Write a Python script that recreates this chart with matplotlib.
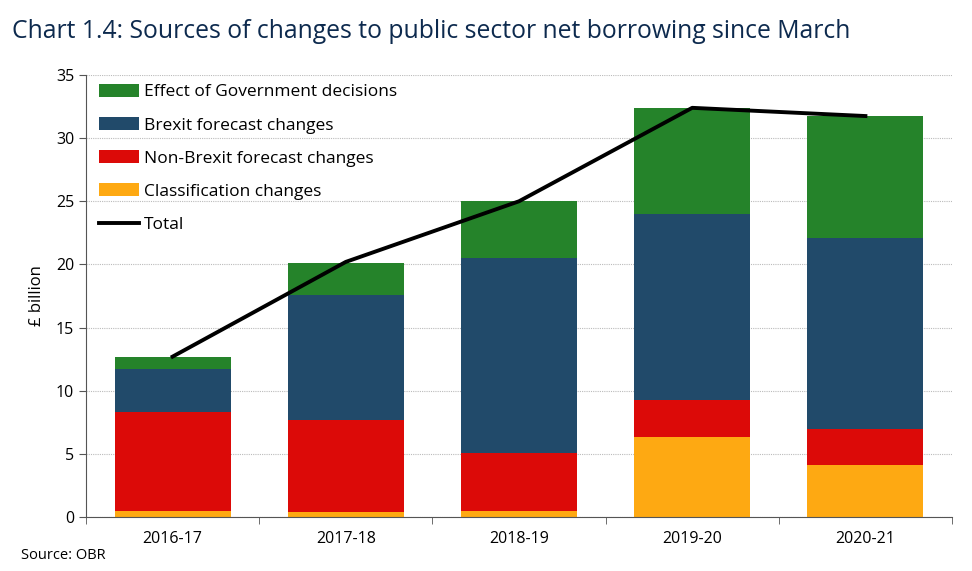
import matplotlib.pyplot as plt
import numpy as np

years = ["2016-17", "2017-18", "2018-19", "2019-20", "2020-21"]
classification = [0.5, 0.4, 0.5, 6.3, 4.1]
non_brexit = [7.8, 7.3, 4.6, 3.0, 2.9]
brexit = [3.4, 9.9, 15.4, 14.7, 15.1]
govt_decisions = [1.0, 2.5, 4.5, 8.4, 9.65]
total = [12.7, 20.2, 25.0, 32.4, 31.75]

col_green = "#25832a"
col_blue = "#214a6a"
col_red = "#dc0a08"
col_orange = "#fea912"

plt.rcParams['font.family'] = ['Open Sans', 'DejaVu Sans']

fig = plt.figure(figsize=(9.72, 5.71), dpi=100)
ax = fig.add_axes([86 / 972, 1 - 517 / 571, 866 / 972, 442 / 571])

x = np.arange(len(years))
w = 0.67
b1 = np.array(classification)
b2 = b1 + np.array(non_brexit)
b3 = b2 + np.array(brexit)

h1 = ax.bar(x, govt_decisions, w, bottom=b3, color=col_green, label="Effect of Government decisions", zorder=2)
h2 = ax.bar(x, brexit, w, bottom=b2, color=col_blue, label="Brexit forecast changes", zorder=2)
h3 = ax.bar(x, non_brexit, w, bottom=b1, color=col_red, label="Non-Brexit forecast changes", zorder=2)
h4 = ax.bar(x, classification, w, color=col_orange, label="Classification changes", zorder=2)
h5, = ax.plot(x, total, color="black", lw=2.8, label="Total", zorder=3)

ax.set_xlim(-0.5, len(years) - 0.5)
ax.set_ylim(0, 35)
ax.set_yticks(range(0, 36, 5))
ax.set_xticks(x)
ax.set_xticklabels(years)
ax.set_xticks(np.arange(-0.5, len(years)), minor=True)
ax.tick_params(axis='x', which='major', length=0, labelsize=11.5, pad=10)
ax.tick_params(axis='x', which='minor', length=5, color="#555555")
ax.tick_params(axis='y', length=5, labelsize=11.5, color="#555555")
ax.grid(axis='y', color="#bbbbbb", linestyle=(0, (1, 1)), lw=0.8, zorder=0)
for s in ["top", "right"]:
    ax.spines[s].set_visible(False)
ax.spines["left"].set_color("#555555")
ax.spines["bottom"].set_color("#555555")
ax.set_ylabel("£ billion", fontsize=12, labelpad=8)

ax.legend(handles=[h1, h2, h3, h4, h5], loc="upper left", bbox_to_anchor=(0.005, 1.0),
          frameon=False, fontsize=12.5, handlelength=2.3, handleheight=0.8,
          labelspacing=0.95, handletextpad=0.3, borderaxespad=0.1)

fig.text(0.012, 0.945, "Chart 1.4: Sources of changes to public sector net borrowing since March",
         fontsize=17.8, color="#0d2a4e", va="center")
fig.text(0.022, 0.028, "Source: OBR", fontsize=10.5, va="center")

plt.savefig("out.png", dpi=100)
